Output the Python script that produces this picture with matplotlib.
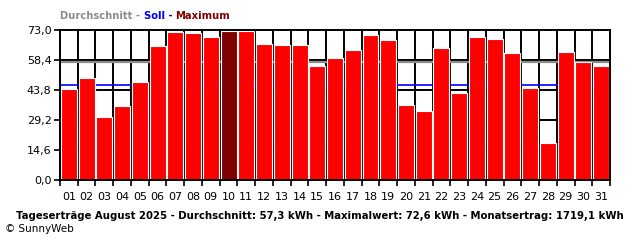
import matplotlib.pyplot as plt
import numpy as np

days = [f"{d:02d}" for d in range(1, 32)]
yields = [44.3, 49.6, 30.7, 36.0, 47.7, 65.2, 72.0, 71.5, 69.6, 72.6,
          72.3, 66.3, 65.7, 65.7, 55.5, 59.4, 63.3, 70.6, 68.1, 36.5,
          33.6, 64.2, 42.3, 69.6, 68.6, 61.8, 44.8, 18.0, 62.3, 57.4, 55.5]
average = 57.3
target = 46.0
y_ticks = [0.0, 14.6, 29.2, 43.8, 58.4, 73.0]
y_labels = ["0,0", "14,6", "29,2", "43,8", "58,4", "73,0"]
footer = ("Tageserträge August 2025 - Durchschnitt: 57,3 kWh - "
          "Maximalwert: 72,6 kWh - Monatsertrag: 1719,1 kWh")

RED = "#ff0000"
MAX_RED = "#800000"
GREY = "#8c8c8c"
BLUE = "#0000ff"

fig = plt.figure(figsize=(6.4, 2.4), dpi=100)
ax = fig.add_axes([60 / 640, 60 / 240, 550 / 640, 150 / 240])

x = np.arange(len(days))
imax = int(np.argmax(yields))
colors = [MAX_RED if i == imax else RED for i in range(len(days))]
ax.bar(x, yields, width=0.9, color=colors, edgecolor="white", linewidth=0.8, zorder=3)

# reference lines behind bars
ax.axhline(average, color=GREY, linewidth=1.6, zorder=2)
ax.axhline(target, color=BLUE, linewidth=1.2, zorder=2)

ax.set_xlim(-0.5, len(days) - 0.5)
ax.set_ylim(0, 73)

# grid
for b in np.arange(-0.5, len(days), 1.0):
    ax.axvline(b, color="black", linewidth=1.4, zorder=1)
for t in y_ticks[1:-1]:
    ax.axhline(t, color="black", linewidth=1.4, zorder=1)

ax.set_yticks(y_ticks)
ax.set_yticklabels(y_labels, fontsize=8)
ax.set_xticks(np.arange(-0.5, len(days), 1.0))
ax.set_xticklabels([])
ax.set_xticks(x, minor=True)
ax.set_xticklabels(days, minor=True, fontsize=8)
ax.tick_params(axis="x", which="minor", length=0, pad=9)
ax.tick_params(axis="x", which="major", length=4, width=1.2, direction="out")
ax.tick_params(axis="y", length=4, width=1.2, direction="out", pad=2)
for s in ax.spines.values():
    s.set_linewidth(1.4)
    s.set_zorder(4)

# legend title in colored pieces, placed by measuring the text before each piece
pieces = [("Durchschnitt - ", GREY), ("Soll - ", BLUE), ("Maximum", MAX_RED)]
renderer = fig.canvas.get_renderer()
prefix = ""
for txt, c in pieces:
    xoff = 0.0
    if prefix:
        probe = fig.text(0, 0, prefix + "|", fontsize=7.2, fontweight="bold")
        bar = fig.text(0, 0, "|", fontsize=7.2, fontweight="bold")
        xoff = probe.get_window_extent(renderer).width - bar.get_window_extent(renderer).width
        probe.remove()
        bar.remove()
    fig.text((60 + xoff) / 640, 1 - 16 / 240, txt, color=c, fontsize=7.2,
             fontweight="bold", va="center", ha="left")
    prefix += txt

fig.text(320 / 640, 1 - 216 / 240, footer, fontsize=7.25, fontweight="bold",
         ha="center", va="center")
fig.text(5 / 640, 1 - 229 / 240, "© SunnyWeb", fontsize=7.5, ha="left", va="center")

fig.savefig("out.png", dpi=100)
